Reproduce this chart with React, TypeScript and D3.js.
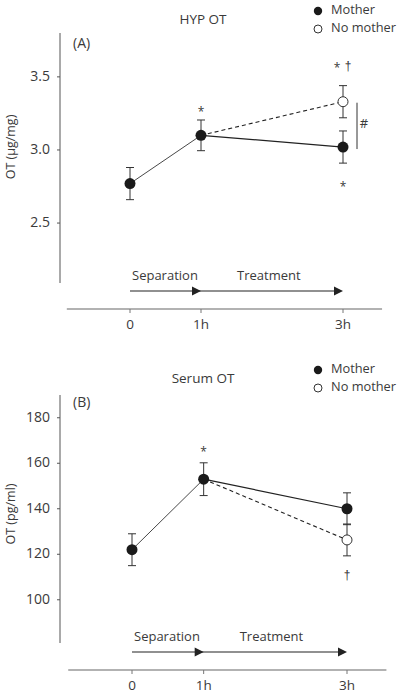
import React from "react";
import * as d3 from "d3";

// ---------- data ----------
const timePoints = [0, 1, 3];
const xTickLabels = ["0", "1h", "3h"];

// Panel A: HYP OT (µg/mg)
const hypMother = [2.77, 3.1, 3.02];
const hypMotherErr = [0.11, 0.105, 0.11];
const hypNoMotherTimes = [1, 3];
const hypNoMother = [3.1, 3.33];
const hypNoMotherErr = [0, 0.11];
const hypYTicks = [2.5, 3.0, 3.5];

// Panel B: Serum OT (pg/ml)
const serumMother = [122, 153, 140];
const serumMotherErr = [7, 7.2, 7];
const serumNoMotherTimes = [1, 3];
const serumNoMother = [153, 126.3];
const serumNoMotherErr = [0, 7];
const serumYTicks = [100, 120, 140, 160, 180];

const FONT = "'Open Sans', 'Noto Sans', sans-serif";
const SYM_FONT = "'Liberation Sans', 'DejaVu Sans', sans-serif";
const TXT = "#3a3a3a";

type PanelProps = {
  title: string;
  tag: string;
  yLabel: string;
  yTicks: number[];
  yFmt: (v: number) => string;
  yDomain: [number, number];
  yRange: [number, number];
  xRange: [number, number];
  xAxisY: number;
  mother: number[];
  motherErr: number[];
  noTimes: number[];
  no: number[];
  noErr: number[];
  top: number;
  labelCenterY: number;
  arrowY: number;
  annotations: (x: d3.ScaleLinear<number, number>, y: d3.ScaleLinear<number, number>) => React.ReactNode;
};

function Panel(p: PanelProps) {
  const x = d3.scaleLinear().domain([0, 3]).range(p.xRange);
  const y = d3.scaleLinear().domain(p.yDomain).range(p.yRange);
  const axisX = 60;
  const line = d3
    .line<[number, number]>()
    .x((d) => x(d[0]))
    .y((d) => y(d[1]));
  const motherPts: [number, number][] = timePoints.map((t, i) => [t, p.mother[i]]);
  const noPts: [number, number][] = p.noTimes.map((t, i) => [t, p.no[i]]);
  const legX = 318;
  const err = (cx: number, v: number, e: number, key: string) =>
    e > 0 ? (
      <g key={key} stroke="#333" strokeWidth={1}>
        <line x1={cx} x2={cx} y1={y(v - e)} y2={y(v + e)} />
        <line x1={cx - 4} x2={cx + 4} y1={y(v + e)} y2={y(v + e)} />
        <line x1={cx - 4} x2={cx + 4} y1={y(v - e)} y2={y(v - e)} />
      </g>
    ) : null;
  const arrowHead = (tipX: number, ay: number) =>
    `M${tipX},${ay} L${tipX - 9},${ay - 4.5} L${tipX - 9},${ay + 4.5} Z`;
  return (
    <g fontFamily={FONT} fill={TXT}>
      {/* title */}
      <text x={203} y={p.top + 20} textAnchor="middle" dominantBaseline="middle" fontSize={13.5}>
        {p.title}
      </text>
      {/* legend */}
      <circle cx={legX} cy={p.top + 11} r={4.2} fill="#1a1a1a" />
      <text x={331} y={p.top + 11} dominantBaseline="middle" fontSize={12.8}>Mother</text>
      <circle cx={legX} cy={p.top + 29} r={4} fill="#fff" stroke="#333" strokeWidth={1} />
      <text x={331} y={p.top + 29} dominantBaseline="middle" fontSize={12.8}>No mother</text>
      {/* tag */}
      <text x={73} y={p.top + 44} dominantBaseline="middle" fontSize={14}>{p.tag}</text>
      {/* y axis */}
      <line x1={axisX} x2={axisX} y1={p.yRange[1]} y2={p.yRange[0]} stroke="#555" strokeWidth={1} />
      {p.yTicks.map((t) => (
        <g key={t}>
          <line x1={axisX - 3} x2={axisX} y1={y(t)} y2={y(t)} stroke="#555" />
          <text x={50} y={y(t)} textAnchor="end" dominantBaseline="middle" fontSize={14}>
            {p.yFmt(t)}
          </text>
        </g>
      ))}
      <text
        transform={`translate(12,${p.labelCenterY}) rotate(-90)`}
        textAnchor="middle"
        dominantBaseline="middle"
        fontSize={12.5}
      >
        {p.yLabel}
      </text>
      {/* x axis */}
      <line x1={x(-0.89)} x2={x(3.55)} y1={p.xAxisY} y2={p.xAxisY} stroke="#999" strokeWidth={1.5} />
      {timePoints.map((t, i) => (
        <g key={t}>
          <line x1={x(t)} x2={x(t)} y1={p.xAxisY} y2={p.xAxisY + 4} stroke="#777" />
          <text x={x(t)} y={p.xAxisY + 16} textAnchor="middle" dominantBaseline="middle" fontSize={13.5}>
            {xTickLabels[i]}
          </text>
        </g>
      ))}
      {/* timeline arrows */}
      <text x={x(0) + 2} y={p.arrowY - 14} dominantBaseline="middle" fontSize={13}>Separation</text>
      <text x={x(1) + 36} y={p.arrowY - 14} dominantBaseline="middle" fontSize={13}>Treatment</text>
      <line x1={x(0)} x2={x(3) - 6} y1={p.arrowY} y2={p.arrowY} stroke="#222" strokeWidth={1.2} />
      <path d={arrowHead(x(1), p.arrowY)} fill="#222" />
      <path d={arrowHead(x(3), p.arrowY)} fill="#222" />
      {/* lines */}
      <path d={line(motherPts.slice(0, 2)) || ""} fill="none" stroke="#333" strokeWidth={0.9} />
      <path d={line(motherPts.slice(1)) || ""} fill="none" stroke="#222" strokeWidth={1.2} />
      <path d={line(noPts) || ""} fill="none" stroke="#222" strokeWidth={1.1} strokeDasharray="4,3" />
      {/* error bars */}
      {timePoints.map((t, i) => err(x(t), p.mother[i], p.motherErr[i], "m" + i))}
      {p.noTimes.map((t, i) => err(x(t), p.no[i], p.noErr[i], "n" + i))}
      {/* points */}
      {p.noTimes.map((t, i) =>
        i === 0 ? null : (
          <circle key={"nc" + i} cx={x(t)} cy={y(p.no[i])} r={5} fill="#fff" stroke="#333" strokeWidth={1} />
        )
      )}
      {timePoints.map((t, i) => (
        <circle key={"mc" + i} cx={x(t)} cy={y(p.mother[i])} r={5.5} fill="#1a1a1a" />
      ))}
      {p.annotations(x, y)}
    </g>
  );
}

export default function App() {
  return (
    <svg
      width={400}
      height={696}
      style={{ position: "absolute", left: 0, top: 0, background: "#fff" }}
    >
      <rect width={400} height={696} fill="#fff" />
      <Panel
        title="HYP OT"
        tag="(A)"
        yLabel="OT (µg/mg)"
        yTicks={hypYTicks}
        yFmt={(v) => v.toFixed(1)}
        yDomain={[2.09, 3.8]}
        yRange={[283, 33]}
        xRange={[130, 343]}
        xAxisY={309}
        mother={hypMother}
        motherErr={hypMotherErr}
        noTimes={hypNoMotherTimes}
        no={hypNoMother}
        noErr={hypNoMotherErr}
        top={0}
        labelCenterY={147}
        arrowY={291}
        annotations={(x, y) => (
          <g fontSize={12} fill={TXT}>
            <text x={x(1)} y={y(hypMother[1] + hypMotherErr[1]) - 7} textAnchor="middle" dominantBaseline="middle">*</text>
            <text x={x(3) - 6} y={y(hypNoMother[1] + hypNoMotherErr[1]) - 17} textAnchor="middle" dominantBaseline="middle">*</text>
            <text x={x(3) + 5} y={y(hypNoMother[1] + hypNoMotherErr[1]) - 19} textAnchor="middle" dominantBaseline="middle" fontFamily={SYM_FONT} fontSize={12} fill="#333">†</text>
            <text x={x(3)} y={y(hypMother[2] - hypMotherErr[2]) + 25} textAnchor="middle" dominantBaseline="middle">*</text>
            <line x1={x(3) + 14} x2={x(3) + 14} y1={y(hypNoMother[1]) + 1} y2={y(hypMother[2]) + 2} stroke="#333" strokeWidth={1} />
            <text x={x(3) + 21} y={(y(hypNoMother[1]) + y(hypMother[2])) / 2} textAnchor="middle" dominantBaseline="middle" fontSize={13}>#</text>
          </g>
        )}
      />
      <Panel
        title="Serum OT"
        tag="(B)"
        yLabel="OT (pg/ml)"
        yTicks={serumYTicks}
        yFmt={(v) => String(v)}
        yDomain={[81, 190]}
        yRange={[643, 395]}
        xRange={[132, 347]}
        xAxisY={670}
        mother={serumMother}
        motherErr={serumMotherErr}
        noTimes={serumNoMotherTimes}
        no={serumNoMother}
        noErr={serumNoMotherErr}
        top={359}
        labelCenterY={514}
        arrowY={652}
        annotations={(x, y) => (
          <g fontSize={12} fill={TXT}>
            <text x={x(1)} y={y(serumMother[1] + serumMotherErr[1]) - 10} textAnchor="middle" dominantBaseline="middle">*</text>
            <text x={x(3)} y={y(serumNoMother[1] - serumNoMotherErr[1]) + 20} textAnchor="middle" dominantBaseline="middle" fontFamily={SYM_FONT} fontSize={12} fill="#333">†</text>
          </g>
        )}
      />
    </svg>
  );
}
